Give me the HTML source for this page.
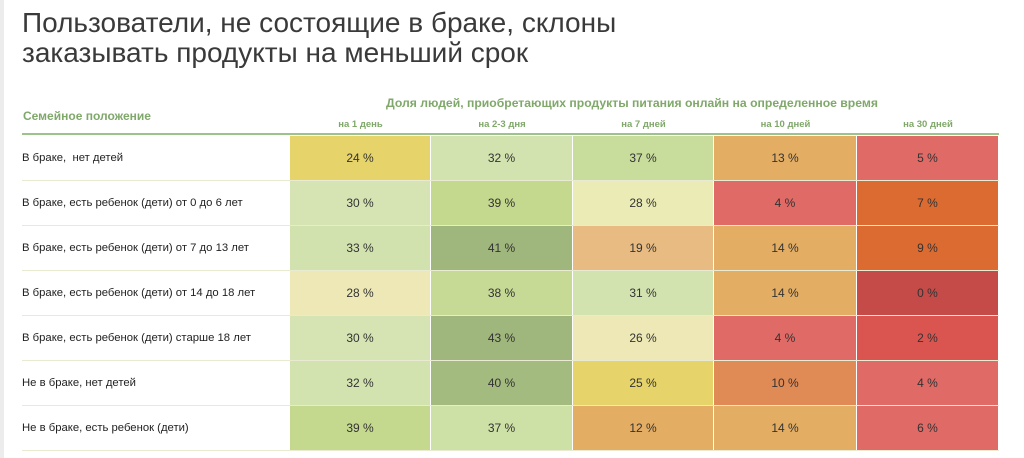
<!DOCTYPE html><html><head><meta charset="utf-8"><style>
body{margin:0;width:1024px;height:458px;background:#fff;position:relative;overflow:hidden;font-family:"Liberation Sans","DejaVu Sans",sans-serif}
.lb{position:absolute;left:0;top:0;width:4px;height:458px;background:#ececec}
h1{position:absolute;left:22px;top:8px;margin:0;font-weight:normal;font-size:28px;line-height:30px;color:#3a3a3a}
.g{position:absolute;color:#7fa86a;font-weight:bold;font-size:12px;white-space:nowrap}
.c{position:absolute;height:44px;line-height:44px;text-align:center;font-size:12px;color:#333}
.r{position:absolute;left:22px;height:44px;line-height:44px;font-size:11.3px;color:#222;width:268px;white-space:nowrap}
.ln{position:absolute;left:22px;width:977px;height:1px;background:#e9ead2}
</style></head><body>
<div class="lb"></div>
<h1>Пользователи, не состоящие в браке, склоны<br>заказывать продукты на меньший срок</h1>
<div class="g" style="left:23px;top:109px">Семейное положение</div>
<div class="g" style="left:386px;top:96px;font-size:12.2px">Доля людей, приобретающих продукты питания онлайн на определенное время</div>
<div class="g" style="left:290px;width:141px;text-align:center;top:119px;font-size:9.5px">на 1 день</div>
<div class="g" style="left:431px;width:142px;text-align:center;top:119px;font-size:9.5px">на 2-3 дня</div>
<div class="g" style="left:573px;width:141px;text-align:center;top:119px;font-size:9.5px">на 7 дней</div>
<div class="g" style="left:714px;width:143px;text-align:center;top:119px;font-size:9.5px">на 10 дней</div>
<div class="g" style="left:857px;width:142px;text-align:center;top:119px;font-size:9.5px">на 30 дней</div>
<div style="position:absolute;left:22px;top:133px;width:977px;height:2px;background:#9cc48a"></div>
<div id="t"></div>
<script>
var rows=[["В браке,  нет детей",[24,"#e6d36a"],[32,"#d3e3b0"],[37,"#c8dc9c"],[13,"#e3ad64"],[5,"#df6a66"]],
["В браке, есть ребенок (дети) от 0 до 6 лет",[30,"#d5e4b2"],[39,"#c4d88e"],[28,"#ebebb5"],[4,"#df6a66"],[7,"#dc6b32"]],
["В браке, есть ребенок (дети) от 7 до 13 лет",[33,"#d2e2ae"],[41,"#9fb67c"],[19,"#e8bb82"],[14,"#e3ad64"],[9,"#dc6b32"]],
["В браке, есть ребенок (дети) от 14 до 18 лет",[28,"#ede8b5"],[38,"#c6da95"],[31,"#d3e3b0"],[14,"#e3ad64"],[0,"#c44b48"]],
["В браке, есть ребенок (дети) старше 18 лет",[30,"#d5e4b2"],[43,"#9fb67c"],[26,"#ede8b5"],[4,"#df6a66"],[2,"#db5550"]],
["Не в браке, нет детей",[32,"#d3e3b0"],[40,"#a4bb80"],[25,"#e6d36a"],[10,"#e08a55"],[4,"#df6a66"]],
["Не в браке, есть ребенок (дети)",[39,"#c4d88e"],[37,"#cde0a5"],[12,"#e3ad64"],[14,"#e3ad64"],[6,"#df6a66"]]];
var xs=[290,431,573,714,857,999],h="";
rows.forEach(function(r,i){var y=136+i*45;
h+='<div class="r" style="top:'+y+'px">'+r[0].replace(/  /g,'&nbsp; ')+'</div>';
for(var j=0;j<5;j++)h+='<div class="c" style="left:'+xs[j]+'px;width:'+(xs[j+1]-xs[j]-1)+'px;top:'+y+'px;background:'+r[j+1][1]+'">'+r[j+1][0]+' %</div>';
h+='<div class="ln" style="top:'+(y+44)+'px"></div>';});
document.getElementById("t").innerHTML=h;
</script>
</body></html>
